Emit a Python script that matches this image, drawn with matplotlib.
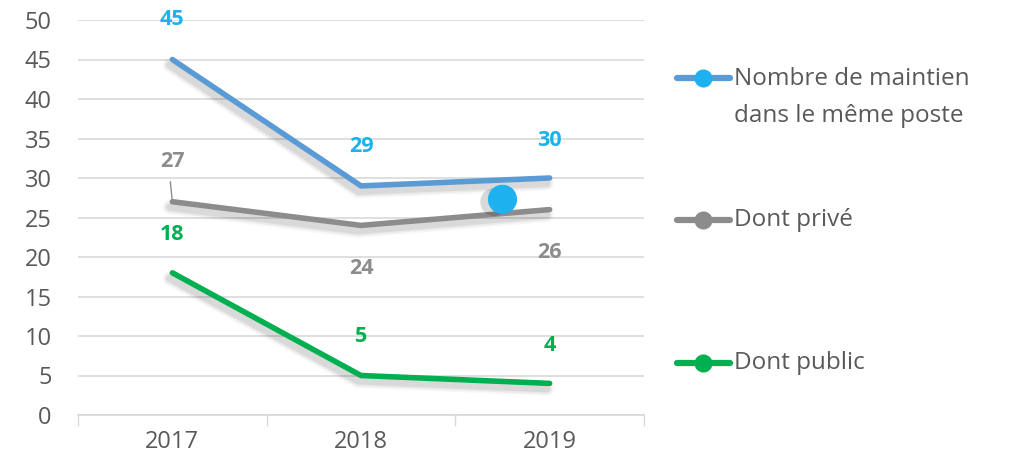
import matplotlib
matplotlib.use("Agg")
import matplotlib.pyplot as plt
import matplotlib.patheffects as pe
from matplotlib.lines import Line2D

years = ["2017", "2018", "2019"]
maintien = [45, 29, 30]
prive = [27, 24, 26]
public = [18, 5, 4]
stray_point = (1.75, 27.3)
yticks = [0, 5, 10, 15, 20, 25, 30, 35, 40, 45, 50]

series_names = ["Nombre de maintien\ndans le même poste", "Dont privé", "Dont public"]
line_colors = ["#5B9BD5", "#8C8C8C", "#00B050"]
marker_colors = ["#1EB1F0", "#8C8C8C", "#00B050"]
label_colors = ["#1EB1F0", "#8C8C8C", "#00B050"]

plt.rcParams['font.family'] = ['Open Sans', 'DejaVu Sans']

fig = plt.figure(figsize=(10.1, 4.67), dpi=100)
ax = fig.add_axes([78/1010, 1-415/467, 566/1010, 395/467])

x = list(range(len(years)))
shadow = [pe.Stroke(offset=(-2, -4), linewidth=10, foreground='black', alpha=0.03),
          pe.Stroke(offset=(-2, -4), linewidth=7.5, foreground='black', alpha=0.05),
          pe.Stroke(offset=(-2, -4), linewidth=5, foreground='black', alpha=0.07),
          pe.Normal()]

for vals, c in zip([maintien, prive, public], line_colors):
    ax.plot(x, vals, color=c, lw=4, solid_capstyle='round', solid_joinstyle='miter',
            path_effects=shadow, zorder=3)

ax.plot([stray_point[0]], [stray_point[1]], 'o', ms=20, color=marker_colors[0], zorder=4,
        path_effects=[pe.SimplePatchShadow(offset=(-6, -2), shadow_rgbFace='black', alpha=0.15), pe.Normal()])

# data labels
label_offsets = [[40, 39, 38], [40, -43, -43], [38, 39, 38]]
for vals, c, offs in zip([maintien, prive, public], label_colors, label_offsets):
    for xi, v, o in zip(x, vals, offs):
        ax.annotate(str(v), (xi, v), xytext=(0, o), textcoords='offset pixels',
                    ha='center', va='center', fontsize=15.5, fontweight='bold', color=c, zorder=5)
# leader line for 27
ax.annotate("", (0, prive[0]), xytext=(-2, 20), textcoords='offset pixels',
            arrowprops=dict(arrowstyle='-', color='#8C8C8C', lw=1, shrinkA=0, shrinkB=0))

ax.set_xlim(-0.5, 2.5)
ax.set_ylim(0, 50)
ax.set_yticks(yticks)
ax.set_xticks(x)
ax.set_xticklabels(years)
ax.set_xticks([-0.5, 0.5, 1.5, 2.5], minor=True)
ax.tick_params(axis='x', which='major', length=0, pad=11, labelsize=17, colors='#595959')
ax.tick_params(axis='x', which='minor', length=8, color='#D9D9D9', width=1)
ax.tick_params(axis='y', length=0, pad=19, labelsize=17, colors='#595959')
ax.grid(axis='y', color='#D9D9D9', lw=1.2)
ax.set_axisbelow(True)
for s in ['top', 'right', 'left']:
    ax.spines[s].set_visible(False)
ax.spines['bottom'].set_color('#D9D9D9')
ax.spines['bottom'].set_linewidth(1.2)

# legend drawn manually
legend_y = [78, 220, 363]
for name, lc, mc, yy in zip(series_names, line_colors, marker_colors, legend_y):
    fy = 1 - yy/467
    fig.add_artist(Line2D([677/1010, 730/1010], [fy, fy], color=lc, lw=4.5, solid_capstyle='round',
                          transform=fig.transFigure))
    fig.add_artist(Line2D([703/1010], [fy], marker='o', ms=12, color=mc, transform=fig.transFigure))
    fig.text(734/1010, fy + (11/467 if '\n' in name else 0), name, ha='left',
             va='top' if '\n' in name else 'center',
             fontsize=17.5, color='#595959', linespacing=1.7)

fig.savefig("out.png", dpi=100)
